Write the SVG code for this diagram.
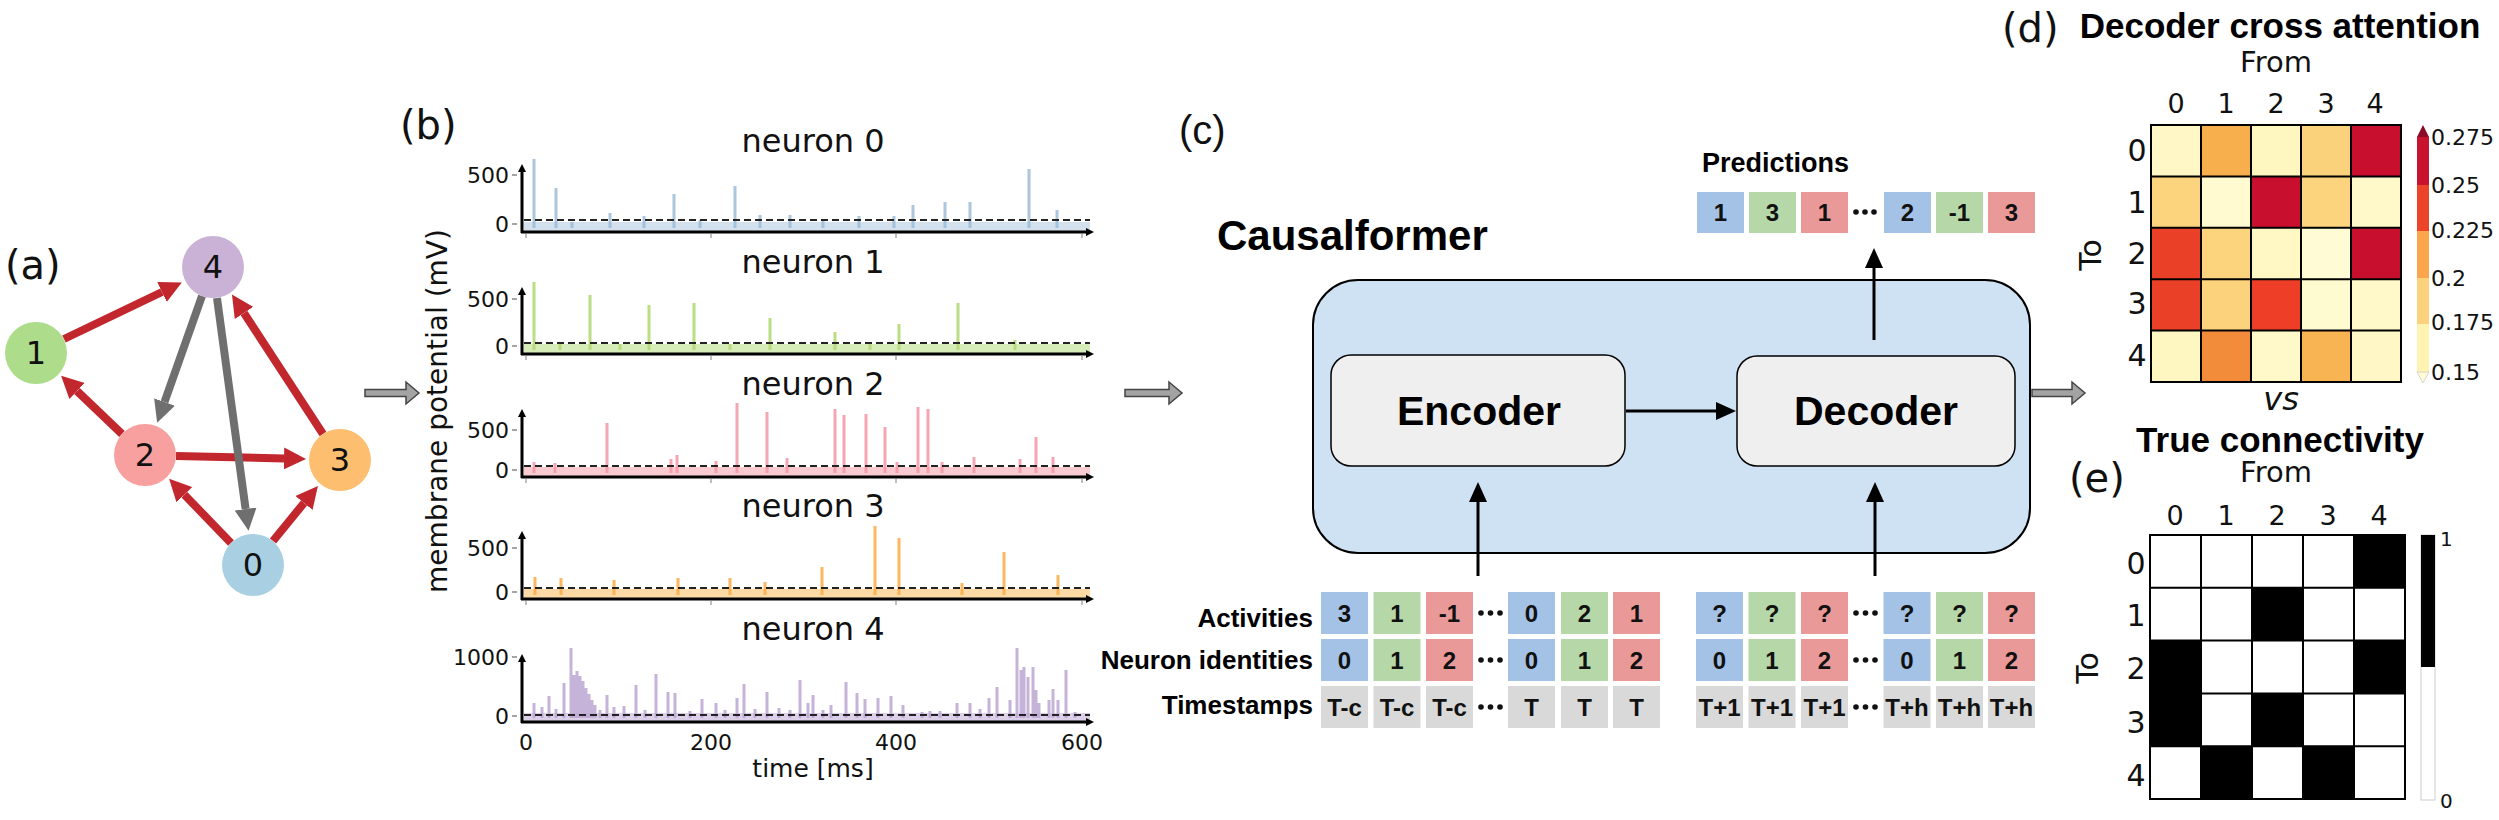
<svg xmlns="http://www.w3.org/2000/svg" width="2499" height="820" viewBox="0 0 2499 820">
<style>
.dv{font-family:"DejaVu Sans",sans-serif;fill:#111}
.ar{font-family:"Liberation Sans",Arial,sans-serif;font-weight:bold;fill:#000}
.cell{font-family:"Liberation Sans",Arial,sans-serif;font-weight:bold;font-size:24px;fill:#111;text-anchor:middle}
.lbl{font-family:"DejaVu Sans",sans-serif;font-size:40px;fill:#111}
.tick{font-family:"DejaVu Sans",sans-serif;font-size:22px;fill:#111;text-anchor:end}
.red{stroke:#c1272d;stroke-width:8;fill:none}
.gry{stroke:#6f6f6f;stroke-width:8;fill:none}
.axis{stroke:#000;stroke-width:3;fill:none}
.dash{stroke:#222;stroke-width:2;stroke-dasharray:7 4;fill:none}
.xt{stroke:#aaa;stroke-width:1.5}
.sp{stroke-width:3;fill:none;opacity:0.85}
.big{fill:#a3a3a3;stroke:#444;stroke-width:1.5}
.blu{fill:#a4c2e6}.grn{fill:#b6d7a8}.pnk{fill:#ea9999}.gy{fill:#d9d9d9}
.grid{stroke:#000;stroke-width:2;fill:none}
</style>
<defs>
<marker id="mr" markerUnits="userSpaceOnUse" viewBox="0 -11 22 22" refX="0" refY="0" markerWidth="22" markerHeight="22" orient="auto"><path d="M0,-11 L22,0 L0,11 z" fill="#c1272d"/></marker>
<marker id="mg" markerUnits="userSpaceOnUse" viewBox="0 -11 22 22" refX="0" refY="0" markerWidth="22" markerHeight="22" orient="auto"><path d="M0,-11 L22,0 L0,11 z" fill="#6f6f6f"/></marker>
<marker id="mb" markerUnits="userSpaceOnUse" viewBox="0 -9 20 18" refX="0" refY="0" markerWidth="20" markerHeight="18" orient="auto"><path d="M0,-9 L20,0 L0,9 z" fill="#000"/></marker>
<marker id="ms" markerUnits="userSpaceOnUse" viewBox="0 -4 8 8" refX="0" refY="0" markerWidth="8" markerHeight="8" orient="auto"><path d="M0,-4 L8,0 L0,4 z" fill="#000"/></marker>
</defs>
<rect width="2499" height="820" fill="#fff"/>

<!-- panel labels -->
<text class="lbl" x="5" y="279">(a)</text>
<text class="lbl" x="400" y="139">(b)</text>
<text class="lbl" x="1179" y="144" style="font-family:'Liberation Sans',Arial,sans-serif;font-weight:normal">(c)</text>
<text class="lbl" x="2002" y="42">(d)</text>
<text class="lbl" x="2069" y="492">(e)</text>

<!-- big transition arrows -->
<g id="transition-arrows">
<path class="big" d="M365,389.5 H406 V382 L419,393 L406,404 V396.5 H365 z"/>
<path class="big" d="M1125,389.5 H1169 V382 L1182,393 L1169,404 V396.5 H1125 z"/>
<path class="big" d="M2032,389.5 H2072 V382 L2085,393 L2072,404 V396.5 H2032 z"/>
</g>

<!-- (a) graph -->
<g id="graph-edges">
<line class="red" x1="64" y1="339" x2="162" y2="292" marker-end="url(#mr)"/>
<line class="red" x1="122" y1="434" x2="77" y2="391" marker-end="url(#mr)"/>
<line class="red" x1="323" y1="434" x2="244" y2="313" marker-end="url(#mr)"/>
<line class="red" x1="176" y1="456" x2="284" y2="458.4" marker-end="url(#mr)"/>
<line class="red" x1="231" y1="543" x2="184.4" y2="494.7" marker-end="url(#mr)"/>
<line class="red" x1="273" y1="541" x2="304" y2="503" marker-end="url(#mr)"/>
<line class="gry" x1="202" y1="296" x2="164.5" y2="402" marker-end="url(#mg)"/>
<line class="gry" x1="217" y1="298" x2="245.6" y2="509" marker-end="url(#mg)"/>
</g>
<g id="node-4"><circle cx="213" cy="267" r="31" fill="#cab2d6"/><text class="dv" x="213" y="278" font-size="32" text-anchor="middle">4</text></g>
<g id="node-1"><circle cx="36" cy="353" r="31" fill="#addc8a"/><text class="dv" x="36" y="364" font-size="32" text-anchor="middle">1</text></g>
<g id="node-2"><circle cx="145" cy="455" r="31" fill="#f8a0a0"/><text class="dv" x="145" y="466" font-size="32" text-anchor="middle">2</text></g>
<g id="node-3"><circle cx="340" cy="460" r="31" fill="#fdbf6f"/><text class="dv" x="340" y="471" font-size="32" text-anchor="middle">3</text></g>
<g id="node-0"><circle cx="253" cy="565" r="31" fill="#a9cfe2"/><text class="dv" x="253" y="576" font-size="32" text-anchor="middle">0</text></g>

<!-- (b) traces -->
<g id="traces">
<text class="dv" font-size="28" text-anchor="middle" transform="translate(447,411) rotate(-90)">membrane potential (mV)</text>
<text class="dv" x="813" y="777" font-size="25" text-anchor="middle">time [ms]</text>
<g class="dv" font-size="22" text-anchor="middle">
<text x="526" y="750">0</text><text x="711" y="750">200</text><text x="896" y="750">400</text><text x="1082" y="750">600</text>
</g>

<!-- neuron 0 -->
<g id="plot-0">
<text class="dv" x="813" y="152" font-size="32" text-anchor="middle">neuron 0</text>
<rect x="524" y="222" width="566" height="10" fill="#a6c4dc" opacity="0.5"/>
<path class="sp" stroke="#9dbcd6" d="M534,228V159M556,228V188M610,228V213M644,228V216M674,228V194M735,228V186M760,228V215M790,228V215M859,228V216M894,228V216M913,228V205M945,228V202M970,228V202M1029,228V169M1057,228V210M572,228V222M700,228V220M823,228V221"/>
<line class="dash" x1="524" y1="220" x2="1090" y2="220"/>
<text class="tick" x="509" y="183">500</text><text class="tick" x="509" y="232">0</text>
<path d="M512,175H517M512,224H517" stroke="#888" stroke-width="1.5"/>
<path class="xt" d="M526,234V238M711,234V238M896,234V238M1082,234V238"/>
<line class="axis" x1="522" y1="233" x2="522" y2="172" marker-end="url(#ms)"/>
<line class="axis" x1="521" y1="232" x2="1086" y2="232" marker-end="url(#ms)"/>
</g>

<!-- neuron 1 -->
<g id="plot-1">
<text class="dv" x="813" y="273" font-size="32" text-anchor="middle">neuron 1</text>
<rect x="524" y="344" width="566" height="10" fill="#b5dc80" opacity="0.55"/>
<path class="sp" stroke="#afd86e" d="M534,350V282M590,350V295M649,350V305M694,350V303M770,350V318M835,350V332M899,350V324M958,350V303M1015,350V340M560,350V343M620,350V344M730,350V344M870,350V343"/>
<line class="dash" x1="524" y1="343" x2="1090" y2="343"/>
<text class="tick" x="509" y="307">500</text><text class="tick" x="509" y="354">0</text>
<path d="M512,299H517M512,346H517" stroke="#888" stroke-width="1.5"/>
<path class="xt" d="M526,356V360M711,356V360M896,356V360M1082,356V360"/>
<line class="axis" x1="522" y1="355" x2="522" y2="295" marker-end="url(#ms)"/>
<line class="axis" x1="521" y1="354" x2="1086" y2="354" marker-end="url(#ms)"/>
</g>

<!-- neuron 2 -->
<g id="plot-2">
<text class="dv" x="813" y="395" font-size="32" text-anchor="middle">neuron 2</text>
<rect x="524" y="467" width="566" height="10" fill="#f4a0ac" opacity="0.55"/>
<path class="sp" stroke="#f597a6" d="M534,473V462M555,473V463M607,473V423M671,473V459M677,473V455M716,473V461M737,473V403M767,473V412M787,473V458M835,473V409M844,473V415M866,473V414M885,473V427M897,473V462M918,473V407M928,473V409M942,473V462M974,473V457M1020,473V459M1036,473V437M1053,473V457"/>
<line class="dash" x1="524" y1="466" x2="1090" y2="466"/>
<text class="tick" x="509" y="438">500</text><text class="tick" x="509" y="478">0</text>
<path d="M512,430H517M512,470H517" stroke="#888" stroke-width="1.5"/>
<path class="xt" d="M526,479V483M711,479V483M896,479V483M1082,479V483"/>
<line class="axis" x1="522" y1="478" x2="522" y2="417" marker-end="url(#ms)"/>
<line class="axis" x1="521" y1="477" x2="1086" y2="477" marker-end="url(#ms)"/>
</g>

<!-- neuron 3 -->
<g id="plot-3">
<text class="dv" x="813" y="517" font-size="32" text-anchor="middle">neuron 3</text>
<rect x="524" y="589" width="566" height="10" fill="#fbbf6a" opacity="0.6"/>
<path class="sp" stroke="#fbaa45" d="M535,595V577M561,595V578M614,595V580M678,595V578M730,595V578M765,595V582M822,595V567M875,595V526M899,595V538M962,595V583M1004,595V552M1058,595V575"/>
<line class="dash" x1="524" y1="588" x2="1090" y2="588"/>
<text class="tick" x="509" y="556">500</text><text class="tick" x="509" y="600">0</text>
<path d="M512,548H517M512,592H517" stroke="#888" stroke-width="1.5"/>
<path class="xt" d="M526,601V605M711,601V605M896,601V605M1082,601V605"/>
<line class="axis" x1="522" y1="600" x2="522" y2="539" marker-end="url(#ms)"/>
<line class="axis" x1="521" y1="599" x2="1086" y2="599" marker-end="url(#ms)"/>
</g>

<!-- neuron 4 -->
<g id="plot-4">
<text class="dv" x="813" y="640" font-size="32" text-anchor="middle">neuron 4</text>
<rect x="524" y="713" width="566" height="9" fill="#c4b0d8" opacity="0.6"/>
<path class="sp" stroke="#bca6d2" d="M534,718V703M542,718V707M549,718V696M564,718V683M571,718V648M574,718V675M577,718V671M580,718V676M583,718V681M586,718V688M589,718V694M592,718V700M595,718V705M607,718V695M614,718V707M624,718V706M636,718V685M656,718V674M668,718V692M675,718V693M702,718V699M716,718V703M737,718V698M744,718V684M767,718V692M779,718V708M800,718V680M808,718V703M813,718V695M831,718V705M846,718V682M857,718V693M865,718V699M878,718V698M891,718V696M903,718V705M922,718V712M940,718V711M957,718V703M970,718V703M989,718V698M997,718V687M1010,718V700M1017,718V648M1021,718V670M1024,718V667M1028,718V677M1033,718V667M1036,718V690M1039,718V703M1049,718V700M1053,718V689M1058,718V700M1066,718V670M556,718V709M600,718V710M645,718V710M690,718V711M725,718V710M755,718V709M790,718V710M823,718V710M930,718V711M980,718V709M1075,718V712"/>
<line class="dash" x1="524" y1="715" x2="1090" y2="715"/>
<text class="tick" x="509" y="665">1000</text><text class="tick" x="509" y="724">0</text>
<path d="M512,657H517M512,716H517" stroke="#888" stroke-width="1.5"/>
<line class="axis" x1="522" y1="723" x2="522" y2="662" marker-end="url(#ms)"/>
<line class="axis" x1="521" y1="722" x2="1086" y2="722" marker-end="url(#ms)"/>
</g>
</g>

<!-- (c) Causalformer -->
<g id="causalformer">
<text class="ar" x="1217" y="250" font-size="42">Causalformer</text>
<rect x="1313" y="280" width="717" height="273" rx="45" fill="#cfe2f3" stroke="#000" stroke-width="2"/>
</g>
<g id="encoder">
<rect x="1331" y="355" width="294" height="111" rx="20" fill="#efefef" stroke="#000" stroke-width="1.5"/>
<text class="ar" x="1479" y="425" font-size="41" text-anchor="middle">Encoder</text>
</g>
<g id="decoder">
<rect x="1737" y="356" width="278" height="110" rx="20" fill="#efefef" stroke="#000" stroke-width="1.5"/>
<text class="ar" x="1876" y="425" font-size="41" text-anchor="middle">Decoder</text>
</g>

<g id="predictions">
<text class="ar" x="1702" y="172" font-size="27">Predictions</text>
<rect class="blu" x="1697" y="192" width="47" height="41"/><text class="cell" x="1720.5" y="221">1</text>
<rect class="grn" x="1749" y="192" width="47" height="41"/><text class="cell" x="1772.5" y="221">3</text>
<rect class="pnk" x="1801" y="192" width="47" height="41"/><text class="cell" x="1824.5" y="221">1</text>
<g fill="#111"><circle cx="1856" cy="212" r="2.8"/><circle cx="1865" cy="212" r="2.8"/><circle cx="1874" cy="212" r="2.8"/></g>
<rect class="blu" x="1884" y="192" width="47" height="41"/><text class="cell" x="1907.5" y="221">2</text>
<rect class="grn" x="1936" y="192" width="47" height="41"/><text class="cell" x="1959.5" y="221">-1</text>
<rect class="pnk" x="1988" y="192" width="47" height="41"/><text class="cell" x="2011.5" y="221">3</text>
</g>

<g id="encoder-inputs">
<text class="ar" x="1313" y="627" font-size="26" text-anchor="end">Activities</text>
<text class="ar" x="1313" y="669" font-size="26" text-anchor="end">Neuron identities</text>
<text class="ar" x="1313" y="714" font-size="26" text-anchor="end">Timestamps</text>
<rect class="blu" x="1321" y="592" width="47" height="42"/><text class="cell" x="1344.5" y="622">3</text>
<rect class="grn" x="1373.5" y="592" width="47" height="42"/><text class="cell" x="1397" y="622">1</text>
<rect class="pnk" x="1426" y="592" width="47" height="42"/><text class="cell" x="1449.5" y="622">-1</text>
<rect class="blu" x="1508" y="592" width="47" height="42"/><text class="cell" x="1531.5" y="622">0</text>
<rect class="grn" x="1561" y="592" width="47" height="42"/><text class="cell" x="1584.5" y="622">2</text>
<rect class="pnk" x="1613" y="592" width="47" height="42"/><text class="cell" x="1636.5" y="622">1</text>
<rect class="blu" x="1321" y="639" width="47" height="42"/><text class="cell" x="1344.5" y="669">0</text>
<rect class="grn" x="1373.5" y="639" width="47" height="42"/><text class="cell" x="1397" y="669">1</text>
<rect class="pnk" x="1426" y="639" width="47" height="42"/><text class="cell" x="1449.5" y="669">2</text>
<rect class="blu" x="1508" y="639" width="47" height="42"/><text class="cell" x="1531.5" y="669">0</text>
<rect class="grn" x="1561" y="639" width="47" height="42"/><text class="cell" x="1584.5" y="669">1</text>
<rect class="pnk" x="1613" y="639" width="47" height="42"/><text class="cell" x="1636.5" y="669">2</text>
<rect class="gy" x="1321" y="686" width="47" height="42"/><text class="cell" x="1344.5" y="716">T-c</text>
<rect class="gy" x="1373.5" y="686" width="47" height="42"/><text class="cell" x="1397" y="716">T-c</text>
<rect class="gy" x="1426" y="686" width="47" height="42"/><text class="cell" x="1449.5" y="716">T-c</text>
<rect class="gy" x="1508" y="686" width="47" height="42"/><text class="cell" x="1531.5" y="716">T</text>
<rect class="gy" x="1561" y="686" width="47" height="42"/><text class="cell" x="1584.5" y="716">T</text>
<rect class="gy" x="1613" y="686" width="47" height="42"/><text class="cell" x="1636.5" y="716">T</text>
<g fill="#111">
<circle cx="1481" cy="613" r="2.8"/><circle cx="1490.5" cy="613" r="2.8"/><circle cx="1500" cy="613" r="2.8"/>
<circle cx="1481" cy="660" r="2.8"/><circle cx="1490.5" cy="660" r="2.8"/><circle cx="1500" cy="660" r="2.8"/>
<circle cx="1481" cy="707" r="2.8"/><circle cx="1490.5" cy="707" r="2.8"/><circle cx="1500" cy="707" r="2.8"/>
</g>
</g>

<g id="decoder-inputs">
<rect class="blu" x="1696" y="592" width="47" height="42"/><text class="cell" x="1719.5" y="622">?</text>
<rect class="grn" x="1748.5" y="592" width="47" height="42"/><text class="cell" x="1772" y="622">?</text>
<rect class="pnk" x="1801" y="592" width="47" height="42"/><text class="cell" x="1824.5" y="622">?</text>
<rect class="blu" x="1883.5" y="592" width="47" height="42"/><text class="cell" x="1907" y="622">?</text>
<rect class="grn" x="1936" y="592" width="47" height="42"/><text class="cell" x="1959.5" y="622">?</text>
<rect class="pnk" x="1988" y="592" width="47" height="42"/><text class="cell" x="2011.5" y="622">?</text>
<rect class="blu" x="1696" y="639" width="47" height="42"/><text class="cell" x="1719.5" y="669">0</text>
<rect class="grn" x="1748.5" y="639" width="47" height="42"/><text class="cell" x="1772" y="669">1</text>
<rect class="pnk" x="1801" y="639" width="47" height="42"/><text class="cell" x="1824.5" y="669">2</text>
<rect class="blu" x="1883.5" y="639" width="47" height="42"/><text class="cell" x="1907" y="669">0</text>
<rect class="grn" x="1936" y="639" width="47" height="42"/><text class="cell" x="1959.5" y="669">1</text>
<rect class="pnk" x="1988" y="639" width="47" height="42"/><text class="cell" x="2011.5" y="669">2</text>
<rect class="gy" x="1696" y="686" width="47" height="42"/><text class="cell" x="1719.5" y="716">T+1</text>
<rect class="gy" x="1748.5" y="686" width="47" height="42"/><text class="cell" x="1772" y="716">T+1</text>
<rect class="gy" x="1801" y="686" width="47" height="42"/><text class="cell" x="1824.5" y="716">T+1</text>
<rect class="gy" x="1883.5" y="686" width="47" height="42"/><text class="cell" x="1907" y="716">T+h</text>
<rect class="gy" x="1936" y="686" width="47" height="42"/><text class="cell" x="1959.5" y="716">T+h</text>
<rect class="gy" x="1988" y="686" width="47" height="42"/><text class="cell" x="2011.5" y="716">T+h</text>
<g fill="#111">
<circle cx="1856" cy="613" r="2.8"/><circle cx="1865.5" cy="613" r="2.8"/><circle cx="1875" cy="613" r="2.8"/>
<circle cx="1856" cy="660" r="2.8"/><circle cx="1865.5" cy="660" r="2.8"/><circle cx="1875" cy="660" r="2.8"/>
<circle cx="1856" cy="707" r="2.8"/><circle cx="1865.5" cy="707" r="2.8"/><circle cx="1875" cy="707" r="2.8"/>
</g>
</g>

<g id="connectors" stroke="#000" stroke-width="3" fill="none">
<line x1="1626" y1="411" x2="1716" y2="411" marker-end="url(#mb)"/>
<line x1="1874" y1="340" x2="1874" y2="268" marker-end="url(#mb)"/>
<line x1="1478" y1="576" x2="1478" y2="502" marker-end="url(#mb)"/>
<line x1="1875" y1="576" x2="1875" y2="502" marker-end="url(#mb)"/>
</g>

<!-- (d) heatmap -->
<g id="attention-map">
<text class="ar" x="2280" y="38" font-size="35" text-anchor="middle">Decoder cross attention</text>
<text class="dv" x="2276" y="72" font-size="29" text-anchor="middle">From</text>
<g class="dv" font-size="27" text-anchor="middle">
<text x="2176" y="113">0</text><text x="2226" y="113">1</text><text x="2276" y="113">2</text><text x="2326" y="113">3</text><text x="2375" y="113">4</text>
</g>
<g class="dv" font-size="30" text-anchor="middle">
<text x="2137" y="161">0</text><text x="2137" y="213">1</text><text x="2137" y="264">2</text><text x="2137" y="314">3</text><text x="2137" y="366">4</text>
</g>
<text class="dv" font-size="30" text-anchor="middle" transform="translate(2101,255) rotate(-90)">To</text>
<g>
<rect x="2151" y="125" width="50" height="51.4" fill="#fff8c6"/>
<rect x="2201" y="125" width="50" height="51.4" fill="#f7ae4c"/>
<rect x="2251" y="125" width="50" height="51.4" fill="#fff6c0"/>
<rect x="2301" y="125" width="50" height="51.4" fill="#fbd27c"/>
<rect x="2351" y="125" width="50" height="51.4" fill="#c8102e"/>
<rect x="2151" y="176.4" width="50" height="51.4" fill="#fcd47e"/>
<rect x="2201" y="176.4" width="50" height="51.4" fill="#fffad0"/>
<rect x="2251" y="176.4" width="50" height="51.4" fill="#c8102e"/>
<rect x="2301" y="176.4" width="50" height="51.4" fill="#fcd47e"/>
<rect x="2351" y="176.4" width="50" height="51.4" fill="#fff8c8"/>
<rect x="2151" y="227.8" width="50" height="51.4" fill="#ea4028"/>
<rect x="2201" y="227.8" width="50" height="51.4" fill="#fcd47e"/>
<rect x="2251" y="227.8" width="50" height="51.4" fill="#fff7c4"/>
<rect x="2301" y="227.8" width="50" height="51.4" fill="#fffbd4"/>
<rect x="2351" y="227.8" width="50" height="51.4" fill="#c8102e"/>
<rect x="2151" y="279.2" width="50" height="51.4" fill="#ea4028"/>
<rect x="2201" y="279.2" width="50" height="51.4" fill="#fcd27c"/>
<rect x="2251" y="279.2" width="50" height="51.4" fill="#ee3e28"/>
<rect x="2301" y="279.2" width="50" height="51.4" fill="#fffbd0"/>
<rect x="2351" y="279.2" width="50" height="51.4" fill="#fff8c8"/>
<rect x="2151" y="330.6" width="50" height="51.4" fill="#fff7c2"/>
<rect x="2201" y="330.6" width="50" height="51.4" fill="#f38c3a"/>
<rect x="2251" y="330.6" width="50" height="51.4" fill="#fff8c8"/>
<rect x="2301" y="330.6" width="50" height="51.4" fill="#f8b352"/>
<rect x="2351" y="330.6" width="50" height="51.4" fill="#fff8c6"/>
</g>
<path class="grid" d="M2151,125H2401V382H2151z M2201,125V382 M2251,125V382 M2301,125V382 M2351,125V382 M2151,176.4H2401 M2151,227.8H2401 M2151,279.2H2401 M2151,330.6H2401"/>
<g>
<polygon points="2417,137 2423,125 2429,137" fill="#8b0a26"/>
<rect x="2417" y="137" width="12" height="48" fill="#c9132e"/>
<rect x="2417" y="185" width="12" height="46" fill="#ec4429"/>
<rect x="2417" y="231" width="12" height="47" fill="#fba54c"/>
<rect x="2417" y="278" width="12" height="46" fill="#fdd27c"/>
<rect x="2417" y="324" width="12" height="48" fill="#fff3b2"/>
<polygon points="2417,372 2423,383 2429,372" fill="#fffbd4" stroke="#ccc" stroke-width="0.8"/>
</g>
<g class="dv" font-size="22">
<text x="2431" y="145">0.275</text><text x="2431" y="193">0.25</text><text x="2431" y="238">0.225</text><text x="2431" y="286">0.2</text><text x="2431" y="330">0.175</text><text x="2431" y="380">0.15</text>
</g>
<text class="dv" x="2281" y="410" font-size="32" font-style="italic" text-anchor="middle">vs</text>
</g>

<!-- (e) true connectivity -->
<g id="true-connectivity">
<text class="ar" x="2280" y="452" font-size="35" text-anchor="middle">True connectivity</text>
<text class="dv" x="2276" y="482" font-size="29" text-anchor="middle">From</text>
<g class="dv" font-size="27" text-anchor="middle">
<text x="2175" y="525">0</text><text x="2226" y="525">1</text><text x="2277" y="525">2</text><text x="2328" y="525">3</text><text x="2379" y="525">4</text>
</g>
<g class="dv" font-size="30" text-anchor="middle">
<text x="2136" y="574">0</text><text x="2136" y="626">1</text><text x="2136" y="679">2</text><text x="2136" y="733">3</text><text x="2136" y="786">4</text>
</g>
<text class="dv" font-size="30" text-anchor="middle" transform="translate(2098,668) rotate(-90)">To</text>
<rect x="2150" y="535" width="255" height="264" fill="#fff"/>
<g fill="#000">
<rect x="2354" y="535" width="51" height="52.8"/>
<rect x="2252" y="587.8" width="51" height="52.8"/>
<rect x="2150" y="640.6" width="51" height="52.8"/>
<rect x="2354" y="640.6" width="51" height="52.8"/>
<rect x="2150" y="693.4" width="51" height="52.8"/>
<rect x="2252" y="693.4" width="51" height="52.8"/>
<rect x="2201" y="746.2" width="51" height="52.8"/>
<rect x="2303" y="746.2" width="51" height="52.8"/>
</g>
<path class="grid" d="M2150,535H2405V799H2150z M2201,535V799 M2252,535V799 M2303,535V799 M2354,535V799 M2150,587.8H2405 M2150,640.6H2405 M2150,693.4H2405 M2150,746.2H2405"/>
<rect x="2421" y="535" width="14" height="265" fill="#fff" stroke="#ccc" stroke-width="1"/>
<rect x="2421" y="535" width="14" height="132" fill="#000"/>
<text class="dv" x="2440" y="546" font-size="20">1</text>
<text class="dv" x="2440" y="808" font-size="20">0</text>
</g>
</svg>
